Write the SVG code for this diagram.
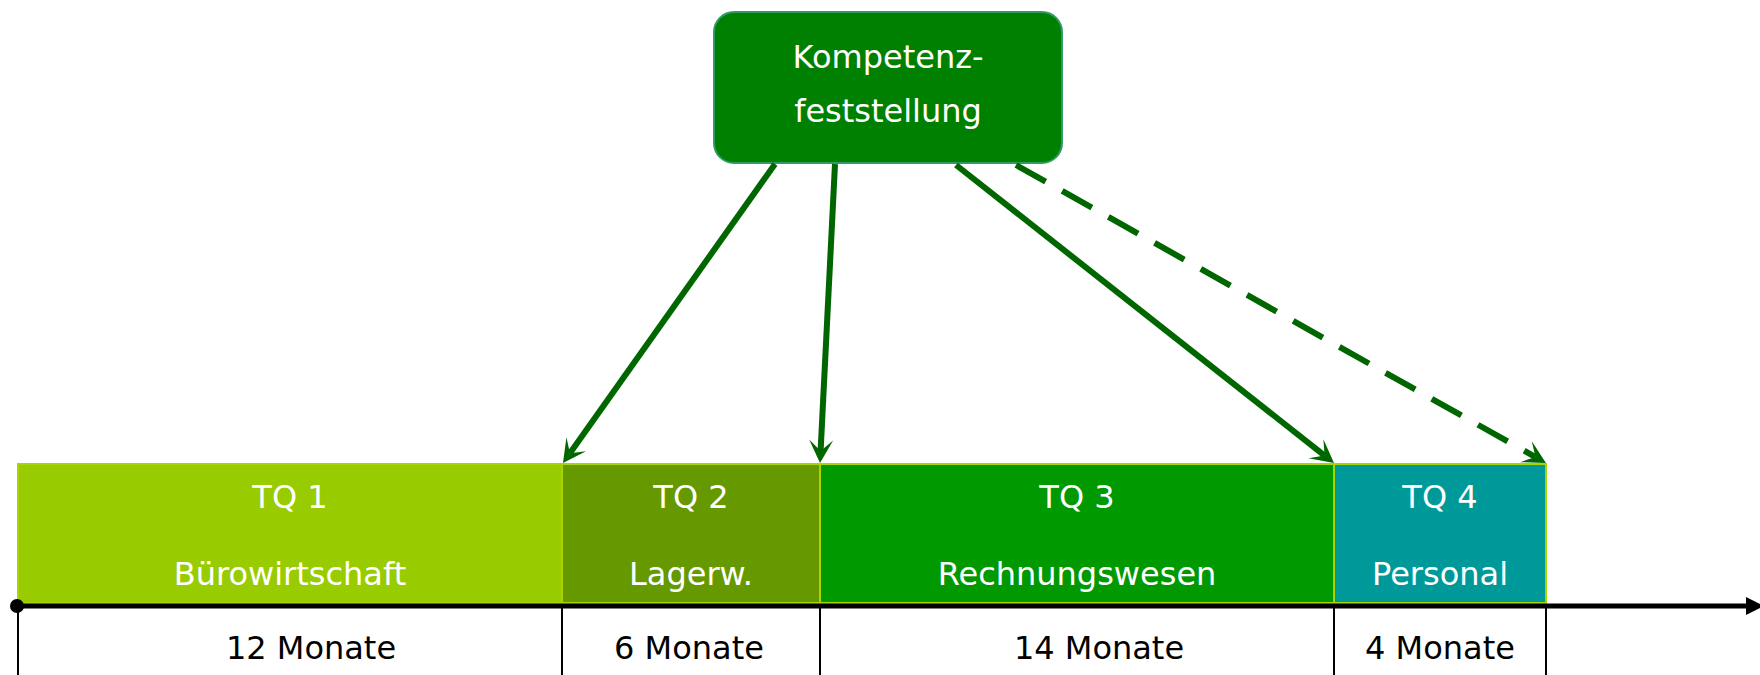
<svg xmlns="http://www.w3.org/2000/svg" width="1760" height="675" viewBox="0 0 1760 675">
  <style>
    .lbl { font-family: "DejaVu Sans", Verdana, sans-serif; font-size: 32px; text-anchor: middle; }
    .w { fill: #ffffff; }
    .k { fill: #000000; }
    .tq { stroke: #a8d400; stroke-width: 2; }
    .conn { fill: none; stroke: #006600; stroke-width: 6; marker-end: url(#ah); }
    .tick { stroke: #000000; stroke-width: 2; }
  </style>
  <defs>
    <marker id="ah" markerUnits="userSpaceOnUse" markerWidth="40" markerHeight="40" refX="0" refY="0" orient="auto" overflow="visible" viewBox="-20 -20 40 40">
      <path d="M12,0 L-11,-12 L0,0 L-11,12 Z" fill="#006600" stroke="none"/>
    </marker>
  </defs>
  <rect x="0" y="0" width="1760" height="675" fill="#ffffff"/>

  <g id="tq1">
    <rect class="tq" x="18" y="464" width="544" height="139" fill="#99cc00"/>
    <text class="lbl w" x="290" y="508">TQ 1</text>
    <text class="lbl w" x="290" y="585">Bürowirtschaft</text>
  </g>
  <g id="tq2">
    <rect class="tq" x="562" y="464" width="258" height="139" fill="#669900"/>
    <text class="lbl w" x="691" y="508">TQ 2</text>
    <text class="lbl w" x="691" y="585">Lagerw.</text>
  </g>
  <g id="tq3">
    <rect class="tq" x="820" y="464" width="514" height="139" fill="#009900"/>
    <text class="lbl w" x="1077" y="508">TQ 3</text>
    <text class="lbl w" x="1077" y="585">Rechnungswesen</text>
  </g>
  <g id="tq4">
    <rect class="tq" x="1334" y="464" width="212" height="139" fill="#009999"/>
    <text class="lbl w" x="1440" y="508">TQ 4</text>
    <text class="lbl w" x="1440" y="585">Personal</text>
  </g>

  <g id="timeline">
    <line x1="18" y1="606" x2="1750" y2="606" stroke="#000000" stroke-width="5"/>
    <polygon points="1746,597 1764,606 1746,615" fill="#000000"/>
    <circle cx="17" cy="606" r="7" fill="#000000"/>
    <line class="tick" x1="18" y1="606" x2="18" y2="675"/>
    <line class="tick" x1="562" y1="606" x2="562" y2="675"/>
    <line class="tick" x1="820" y1="606" x2="820" y2="675"/>
    <line class="tick" x1="1334" y1="606" x2="1334" y2="675"/>
    <line class="tick" x1="1546" y1="606" x2="1546" y2="675"/>
    <text class="lbl k" x="311" y="659">12 Monate</text>
    <text class="lbl k" x="689" y="659">6 Monate</text>
    <text class="lbl k" x="1099" y="659">14 Monate</text>
    <text class="lbl k" x="1440" y="659">4 Monate</text>
  </g>

  <g id="kompetenz">
    <rect x="714" y="12" width="348" height="151" rx="20" ry="20" fill="#008000" stroke="#339966" stroke-width="2"/>
    <text class="lbl w" x="888" y="68">Kompetenz-</text>
    <text class="lbl w" x="888" y="122">feststellung</text>
  </g>

  <g id="connectors">
    <line class="conn" x1="775" y1="164" x2="569.9" y2="453.2"/>
    <line class="conn" x1="835" y1="164" x2="820.6" y2="451.0"/>
    <line class="conn" x1="956" y1="165" x2="1324.6" y2="455.6"/>
    <line class="conn" x1="1016" y1="165" x2="1535.5" y2="457.1" stroke-dasharray="34 19"/>
  </g>
</svg>
